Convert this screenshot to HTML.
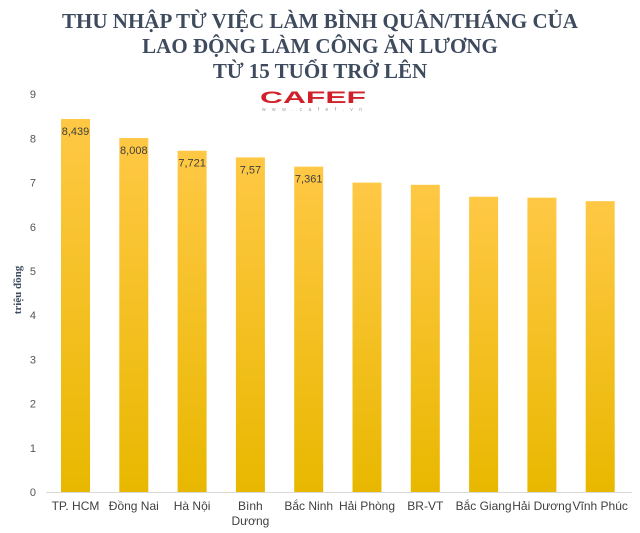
<!DOCTYPE html>
<html><head><meta charset="utf-8"><style>
html,body{margin:0;padding:0;background:#fff;width:640px;height:533px;overflow:hidden}
svg{display:block;font-family:"Liberation Sans",sans-serif}
</style></head><body>
<svg id="c" width="640" height="533" viewBox="0 0 640 533">
<defs><linearGradient id="g" x1="0" y1="0" x2="0" y2="1">
<stop offset="0" stop-color="#ffc845"/><stop offset="1" stop-color="#e8b800"/></linearGradient></defs>
<g font-family="'Liberation Serif',serif" font-weight="bold" font-size="21" fill="#3e4b5e" text-anchor="middle">
<text x="320" y="28">THU NHẬP TỪ VIỆC LÀM BÌNH QUÂN/THÁNG CỦA</text>
<text x="320" y="53">LAO ĐỘNG LÀM CÔNG ĂN LƯƠNG</text>
<text x="320" y="78">TỪ 15 TUỔI TRỞ LÊN</text>
</g>
<g>
<text x="260" y="103" font-size="17" font-weight="bold" fill="#d0202a" textLength="106" lengthAdjust="spacingAndGlyphs">CAFEF</text>
<text x="262" y="111" font-size="5" fill="#999" textLength="100" lengthAdjust="spacing">www.cafef.vn</text>
</g>
<text transform="translate(21,290) rotate(-90)" text-anchor="middle" font-family="'Liberation Serif',serif" font-weight="bold" font-size="11" fill="#3e4b5e">triệu đồng</text>
<g id="ax"></g><g id="bars"></g>
</svg>
<script>
const categories=["TP. HCM","Đồng Nai","Hà Nội","Bình|Dương","Bắc Ninh","Hải Phòng","BR-VT","Bắc Giang","Hải Dương","Vĩnh Phúc"];
const values=[8.439,8.008,7.721,7.57,7.361,7.00,6.95,6.68,6.66,6.58];
const valueLabels=["8,439","8,008","7,721","7,57","7,361","","","","",""];
const ticks=[0,1,2,3,4,5,6,7,8,9];
const NS="http://www.w3.org/2000/svg";
const y=v=>492-v*44.2, x=i=>75.5+i*58.3;
function mk(t,a,p){const e=document.createElementNS(NS,t);for(const k in a)e.setAttribute(k,a[k]);p.appendChild(e);return e;}
const ax=document.getElementById('ax'),bars=document.getElementById('bars');
ticks.forEach(t=>{const e=mk('text',{x:36,y:y(t)+4,'text-anchor':'end','font-size':11,fill:'#555'},ax);e.textContent=t;

});
const bl=mk('line',{x1:46,x2:632,y1:492.5,y2:492.5,stroke:'#d9d9d9'},ax);


categories.forEach((c,i)=>{
const r=mk('rect',{x:x(i)-14.5,y:y(values[i]),width:29,height:492-y(values[i]),fill:'url(#g)'},bars);


if(valueLabels[i]){const l=mk('text',{x:x(i),y:y(values[i])+16,'text-anchor':'middle','font-size':11,fill:'#404040'},bars);l.textContent=valueLabels[i];

}
c.split('|').forEach((s,j)=>{const t=mk('text',{x:x(i),y:510+j*15,'text-anchor':'middle','font-size':12,fill:'#404040'},ax);t.textContent=s;

});
});
</script>
</body></html>
